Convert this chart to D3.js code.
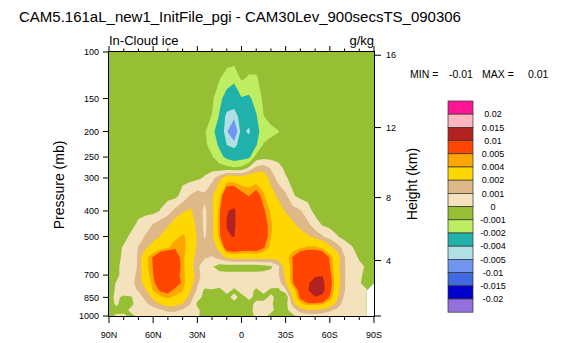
<!DOCTYPE html>
<html>
<head>
<meta charset="utf-8">
<script src="https://cdn.jsdelivr.net/npm/d3@7"></script>
<style>
  body { margin: 0; background: #ffffff; }
  svg { display: block; font-family: "Liberation Sans", Arial, Helvetica, sans-serif; }
</style>
</head>
<body>
<svg id="chart" width="563" height="343"></svg>
<script>
// ---- Data -------------------------------------------------------------
// Zonal-mean in-cloud ice difference, latitude (90N -> 90S) by pressure level.
// Grid values are in units of 1e-3 g/kg; null marks levels below the surface.
const latitudes = [90,85,80,75,70,65,60,55,50,45,40,35,30,25,20,15,10,5,0,-5,-10,-15,-20,-25,-30,-35,-40,-45,-50,-55,-60,-65,-70,-75,-80,-85,-90];
const pressureLevels = [100,125,150,175,200,225,250,275,300,350,400,450,500,550,600,650,700,750,800,850,900,950,1000];
const gridUnit = 1e-3;

const iceDiff = [
  /*100*/ [-.3,-.3,-.3,-.3,-.3,-.3,-.3,-.3,-.3,-.3,-.3,-.3,-.3,-.3,-.3,-.3,-.3,-.3,-.3,-.3,-.3,-.3,-.3,-.3,-.3,-.3,-.3,-.3,-.3,-.3,-.3,-.3,-.3,-.3,-.3,-.3,-.3],
  /*125*/ [-.3,-.3,-.3,-.3,-.3,-.3,-.3,-.3,-.3,-.3,-.3,-.3,-.3,-.3,-.4,-.9,-1.4,-1.6,-.8,-1.1,-1.1,-.6,-.4,-.3,-.3,-.3,-.3,-.3,-.3,-.3,-.3,-.3,-.3,-.3,-.3,-.3,-.3],
  /*150*/ [-.3,-.3,-.3,-.3,-.3,-.3,-.3,-.3,-.3,-.3,-.3,-.3,-.3,-.4,-.8,-1.7,-2.5,-3.0,-2.1,-2.2,-1.6,-.8,-.4,-.3,-.3,-.3,-.3,-.3,-.3,-.3,-.3,-.3,-.3,-.3,-.3,-.3,-.3],
  /*175*/ [-.3,-.3,-.3,-.3,-.3,-.3,-.3,-.3,-.3,-.3,-.3,-.3,-.4,-.6,-1.05,-2.1,-4.5,-4.7,-3.3,-3.2,-2.1,-1.02,-.6,-.4,-.3,-.3,-.3,-.3,-.3,-.3,-.3,-.3,-.3,-.3,-.3,-.3,-.3],
  /*200*/ [-.3,-.3,-.3,-.3,-.3,-.3,-.3,-.3,-.3,-.3,-.3,-.4,-.6,-.9,-1.7,-2.6,-4.9,-6.2,-3.5,-4.3,-2.3,-1.6,-1.3,-1.05,-.6,-.4,-.3,-.3,-.3,-.3,-.3,-.3,-.3,-.3,-.3,-.3,-.3],
  /*225*/ [-.3,-.3,-.3,-.3,-.3,-.3,-.3,-.3,-.3,-.3,-.3,-.3,-.5,-.8,-1.4,-2.2,-4.0,-4.5,-3.2,-3.0,-2.1,-.9,-.6,-.5,-.4,-.3,-.3,-.3,-.3,-.3,-.3,-.3,-.3,-.3,-.3,-.3,-.3],
  /*250*/ [-.3,-.3,-.3,-.3,-.3,-.3,-.3,-.3,-.3,-.3,-.3,-.3,-.3,-.4,-.9,-1.6,-2.3,-2.6,-2.4,-2.3,-.6,-.3,-.3,-.3,-.3,-.3,-.3,-.3,-.3,-.3,-.3,-.3,-.3,-.3,-.3,-.3,-.3],
  /*275*/ [-.3,-.3,-.3,-.3,-.3,-.3,-.3,-.3,-.3,-.3,-.3,-.3,-.3,-.3,-.4,-.6,-.7,-.9,-.8,.2,1.3,1.5,.9,.3,-.2,-.3,-.3,-.3,-.3,-.3,-.3,-.3,-.3,-.3,-.3,-.3,-.3],
  /*300*/ [-.3,-.3,-.3,-.3,-.3,-.3,-.3,-.3,-.3,-.3,-.3,-.3,-.2,.1,.7,1.6,2.8,2.9,2.6,3.0,3.0,2.8,1.6,.6,.1,-.3,-.3,-.3,-.3,-.3,-.3,-.3,-.3,-.3,-.3,-.3,-.3],
  /*350*/ [-.3,-.3,-.3,-.3,-.3,-.3,-.3,-.3,-.3,-.3,.4,1.05,1.5,1.2,1.8,3.5,7.5,7.5,5.8,4.9,6.0,4.3,2.5,1.8,1.2,.1,-.3,-.3,-.3,-.3,-.3,-.3,-.3,-.3,-.3,-.3,-.3],
  /*400*/ [-.3,-.3,-.3,-.3,-.3,-.3,-.3,.05,.6,1.3,1.8,2.2,1.5,.8,1.7,4.5,9.8,10.6,7.5,7.2,7.0,5.3,3.8,2.5,1.9,1.4,1.1,.4,-.3,-.3,-.3,-.3,-.3,-.3,-.3,-.3,-.3],
  /*450*/ [-.3,-.3,-.3,-.3,.2,.6,1.05,1.5,1.8,2.6,3.2,2.9,1.6,.8,1.6,4.7,10.2,10.5,7.5,7.2,7.2,6.0,4.2,3.0,2.6,2.2,1.6,1.2,.5,-.1,-.3,-.3,-.3,-.3,-.3,-.3,-.3],
  /*500*/ [-.3,-.3,-.3,.2,.6,1.1,1.6,2.05,3.0,3.6,4.2,3.6,1.8,.9,1.7,4.4,9.6,10.2,7.2,7.3,7.2,6.2,4.05,3.2,2.9,2.7,2.5,2.2,1.6,1.1,.6,.05,-.3,-.3,-.3,-.3,-.3],
  /*550*/ [-.3,-.3,.1,.5,1.05,1.8,2.5,3.2,3.8,4.8,4.6,3.2,1.8,1.4,1.5,2.4,6.5,7.0,6.5,6.3,6.5,5.2,3.6,3.0,2.9,3.2,3.8,4.2,4.3,3.6,2.3,1.5,.6,.05,-.3,-.3,-.3],
  /*600*/ [-.3,-.3,.2,.6,1.1,3.6,5.2,7.5,8.0,6.0,4.4,2.8,1.5,1.1,.9,1.4,2.2,2.5,2.4,2.4,2.5,2.6,2.4,2.5,3.3,5.2,7.0,7.5,7.5,7.2,4.8,2.6,1.05,.4,-.1,-.3,-.3],
  /*650*/ [-.3,-.2,.3,.6,1.1,3.5,5.1,7.8,8.2,6.3,4.5,2.6,1.2,.4,.1,-.5,-.6,-.6,-.6,-.6,-.6,-.5,-.2,.8,2.6,5.05,7.5,8.5,8.5,8.0,5.1,2.4,1.05,.5,.2,-.1,-.3],
  /*700*/ [-.3,-.2,.3,.7,1.2,3.2,4.9,7.5,8.0,6.0,4.3,3.2,1.3,.6,.4,.4,.4,.4,.4,.4,.4,.4,.5,.9,2.3,5.1,7.5,8.8,9.5,9.8,5.6,2.6,1.05,.5,.2,-.3,-.3],
  /*750*/ [-.3,.05,.4,.8,1.3,2.8,4.5,6.8,7.5,6.2,4.6,2.8,1.1,.6,.5,.5,.5,.5,.5,.5,.5,.5,.5,.6,1.8,5.05,7.0,9.5,11.5,11.5,6.0,2.6,1.05,.4,.05,-.2,-.3],
  /*800*/ [-.3,.1,.5,.8,1.05,1.8,4.1,5.2,5.6,4.5,4.1,2.2,.8,-.2,-.1,-.3,.3,-.2,.3,.4,-.2,.3,-.2,-.3,.8,3.0,6.0,9.8,12.0,11.8,5.6,2.4,1.05,.4,.05,.05,null],
  /*850*/ [-.3,.2,-.2,-.1,.6,1.3,2.3,3.8,4.2,3.8,3.2,1.5,.4,-.3,-.2,-.4,-.3,.3,-.3,.2,-.2,-.3,.2,-.3,-1.1,2.5,5.5,8.0,9.8,8.5,4.8,2.2,.8,.4,.05,.05,null],
  /*900*/ [-.3,.1,-.3,-.2,.4,.8,1.4,2.05,2.6,2.4,1.9,1.05,-.2,-.4,-.3,-.4,-.3,-.3,-.2,-.3,.2,.3,.1,-.3,-.4,1.5,3.6,4.6,4.4,4.2,3.0,1.5,.6,.3,.05,.05,null],
  /*950*/ [-.3,-.2,-.3,.2,.3,.4,.6,.9,1.2,1.2,.9,.5,.2,-.4,-.3,-.4,-.3,-.3,-.3,-.2,.2,.3,.2,-.3,-.3,.6,1.4,1.8,1.8,1.6,1.2,.8,.4,.2,.1,.05,null],
  /*1000*/[-.2,.1,.2,-.2,.2,.3,.3,.4,.5,.5,.4,.3,.1,-.3,-.4,-.4,-.3,-.3,-.3,-.2,.1,.2,-.2,-.3,-.2,-.2,.4,.6,.6,.5,.4,.3,.2,.1,.1,.05,null]
];

// Contour levels (g/kg) and the fill colour of each band, lowest band first.
const contourLevels = [-0.02,-0.015,-0.01,-0.005,-0.004,-0.002,-0.001,0,0.001,0.002,0.004,0.005,0.01,0.015,0.02];
const bandColors = ["#9370db","#0000cd","#4169e1","#6f95ee","#b0e0e6","#20b2aa","#bfed62","#97bf34",
                    "#f4e2bd","#deb887","#ffd700","#ffa500","#ff4500","#b22222","#ffb6c1","#ff1493"];
const levelLabels = ["-0.02","-0.015","-0.01","-0.005","-0.004","-0.002","-0.001","0","0.001","0.002","0.004","0.005","0.01","0.015","0.02"];

// Axis ticks
const pressureTicks = [100,150,200,250,300,400,500,700,850,1000];
const heightTicks = [4,8,12,16];
const latMajorTicks = [90,60,30,0,-30,-60,-90];
const latMajorLabels = ["90N","60N","30N","0","30S","60S","90S"];
const latMinorTicks = [80,70,50,40,20,10,-10,-20,-40,-50,-70,-80];

const fieldMin = "-0.01", fieldMax = "0.01";
const titleText = "CAM5.161aL_new1_InitFile_pgi - CAM30Lev_900secsTS_090306";
const leftString = "In-Cloud ice";
const rightString = "g/kg";

// ---- Layout -----------------------------------------------------------
const plot = { left: 109, right: 374, top: 52, bottom: 316 };
const svg = d3.select("#chart");

const x = d3.scaleLinear().domain([90, -90]).range([plot.left, plot.right]);
const y = d3.scaleLog().domain([100, 1000]).range([plot.top, plot.bottom]);

// US standard atmosphere: height (km) -> pressure (hPa)
function stdPressure(zKm) {
  const z = zKm * 1000;
  if (z <= 11000) return 1013.25 * Math.pow(1 - 2.25577e-5 * z, 5.25588);
  return 226.32 * Math.exp(-(z - 11000) / 6341.6);
}

// ---- Filled contours --------------------------------------------------
const nx = latitudes.length, ny = pressureLevels.length;
const values = iceDiff.flat().map(v => v == null ? NaN : v * gridUnit);
const thresholds = [-1e9].concat(contourLevels);
const bands = d3.contours().size([nx, ny]).thresholds(thresholds)(values);

function gridToX(gx) {
  const i = Math.max(0, Math.min(nx - 1, gx - 0.5));
  const i0 = Math.min(nx - 2, Math.floor(i)), t = i - i0;
  return x(latitudes[i0] + t * (latitudes[i0 + 1] - latitudes[i0]));
}
function gridToY(gy) {
  const j = Math.max(0, Math.min(ny - 1, gy - 0.5));
  const j0 = Math.min(ny - 2, Math.floor(j)), t = j - j0;
  const y0 = y(pressureLevels[j0]), y1 = y(pressureLevels[j0 + 1]);
  return y0 + t * (y1 - y0);
}
function bandPath(geom) {
  let d = "";
  geom.coordinates.forEach(poly => poly.forEach(ring => {
    ring.forEach((p, k) => {
      d += (k ? "L" : "M") + gridToX(p[0]).toFixed(2) + "," + gridToY(p[1]).toFixed(2);
    });
    d += "Z";
  }));
  return d;
}

svg.append("clipPath").attr("id", "plotClip")
  .append("rect")
  .attr("x", plot.left).attr("y", plot.top)
  .attr("width", plot.right - plot.left).attr("height", plot.bottom - plot.top);

svg.append("g").attr("clip-path", "url(#plotClip)")
  .selectAll("path").data(bands).join("path")
  .attr("d", bandPath)
  .attr("fill", (d, i) => bandColors[i])
  .attr("fill-rule", "evenodd")
  .attr("stroke", "none");

// ---- Frame and axes ---------------------------------------------------
const axis = svg.append("g").attr("stroke", "#000").attr("stroke-width", 1).attr("fill", "none");
axis.append("rect")
  .attr("x", plot.left - 0.5).attr("y", plot.top - 0.5)
  .attr("width", plot.right - plot.left + 1).attr("height", plot.bottom - plot.top + 1);

const tickFont = 9;
// left: pressure
pressureTicks.forEach(p => {
  const yy = y(p);
  axis.append("line").attr("x1", plot.left - 6).attr("x2", plot.left - 0.5).attr("y1", yy).attr("y2", yy);
});
svg.append("g").selectAll("text").data(pressureTicks).join("text")
  .attr("x", plot.left - 10).attr("y", d => y(d)).attr("dy", "0.35em")
  .attr("text-anchor", "end").attr("font-size", tickFont).attr("fill", "#000")
  .text(d => d);

// right: height
heightTicks.forEach(h => {
  const yy = y(stdPressure(h));
  axis.append("line").attr("x1", plot.right + 0.5).attr("x2", plot.right + 7).attr("y1", yy).attr("y2", yy);
});
axis.append("line").attr("x1", plot.right + 0.5).attr("x2", plot.right + 7).attr("y1", plot.bottom).attr("y2", plot.bottom);
svg.append("g").selectAll("text").data(heightTicks).join("text")
  .attr("x", plot.right + 12).attr("y", d => y(stdPressure(d))).attr("dy", "0.35em")
  .attr("text-anchor", "start").attr("font-size", tickFont).attr("fill", "#000")
  .text(d => d);

// bottom and top: latitude
latMajorTicks.forEach(l => {
  const xx = x(l);
  axis.append("line").attr("x1", xx).attr("x2", xx).attr("y1", plot.bottom + 0.5).attr("y2", plot.bottom + 7);
  axis.append("line").attr("x1", xx).attr("x2", xx).attr("y1", plot.top - 0.5).attr("y2", plot.top - 6);
});
latMinorTicks.forEach(l => {
  const xx = x(l);
  axis.append("line").attr("x1", xx).attr("x2", xx).attr("y1", plot.bottom + 0.5).attr("y2", plot.bottom + 4);
  axis.append("line").attr("x1", xx).attr("x2", xx).attr("y1", plot.top - 0.5).attr("y2", plot.top - 3.5);
});
svg.append("g").selectAll("text").data(latMajorTicks).join("text")
  .attr("x", d => x(d)).attr("y", 338)
  .attr("text-anchor", "middle").attr("font-size", tickFont).attr("fill", "#000")
  .text((d, i) => latMajorLabels[i]);

// ---- Titles -----------------------------------------------------------
svg.append("text").attr("x", 19).attr("y", 22).attr("font-size", 15).attr("fill", "#000").text(titleText);
svg.append("text").attr("x", plot.left).attr("y", 45).attr("font-size", 13).attr("fill", "#000").text(leftString);
svg.append("text").attr("x", plot.right).attr("y", 45).attr("text-anchor", "end").attr("font-size", 13).attr("fill", "#000").text(rightString);

svg.append("text")
  .attr("transform", "translate(64,185) rotate(-90)")
  .attr("text-anchor", "middle").attr("font-size", 14).attr("fill", "#000")
  .text("Pressure (mb)");
svg.append("text")
  .attr("transform", "translate(417,184) rotate(-90)")
  .attr("text-anchor", "middle").attr("font-size", 14).attr("fill", "#000")
  .text("Height (km)");

// MIN / MAX annotation
const mm = svg.append("g").attr("font-size", 10.5).attr("fill", "#000");
mm.append("text").attr("x", 410).attr("y", 78).text("MIN =");
mm.append("text").attr("x", 449).attr("y", 78).text(fieldMin);
mm.append("text").attr("x", 482).attr("y", 78).text("MAX =");
mm.append("text").attr("x", 528).attr("y", 78).text(fieldMax);

// ---- Label bar --------------------------------------------------------
const lb = { x: 448, y: 101, w: 25, h: 13.2 };
const legendColors = bandColors.slice().reverse();
const legendTexts = levelLabels.slice().reverse();
const legend = svg.append("g");
legend.selectAll("rect").data(legendColors).join("rect")
  .attr("x", lb.x).attr("y", (d, i) => lb.y + i * lb.h)
  .attr("width", lb.w).attr("height", lb.h)
  .attr("fill", d => d).attr("stroke", "#333").attr("stroke-width", 0.7);
legend.selectAll("text").data(legendTexts).join("text")
  .attr("x", 493).attr("y", (d, i) => lb.y + (i + 1) * lb.h).attr("dy", "0.35em")
  .attr("text-anchor", "middle").attr("font-size", 9).attr("fill", "#000")
  .text(d => d);
</script>
</body>
</html>
